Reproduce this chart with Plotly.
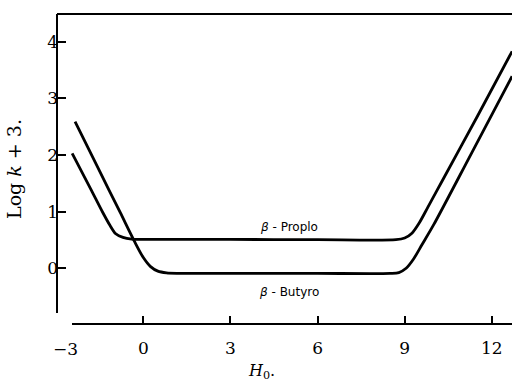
import plotly.graph_objects as go

# ---- data ----
proplo_x = [-2.45, -1.8, -1.4, -1.15, -0.95, -0.7, -0.4, 0.0, 3.0, 6.0, 8.7, 9.0, 9.25, 9.5, 9.8, 10.3, 11.5, 12.7]
proplo_y = [2.03, 1.39, 0.99, 0.76, 0.61, 0.545, 0.515, 0.51, 0.51, 0.505, 0.505, 0.535, 0.62, 0.80, 1.08, 1.55, 2.68, 3.83]

butyro_x = [-2.35, -1.5, -0.8, -0.3, 0.0, 0.25, 0.5, 0.8, 1.2, 3.0, 6.0, 8.5, 8.8, 9.05, 9.3, 9.6, 10.0, 11.3, 12.7]
butyro_y = [2.59, 1.71, 0.99, 0.47, 0.19, 0.03, -0.05, -0.08, -0.088, -0.088, -0.09, -0.09, -0.075, 0.0, 0.16, 0.42, 0.77, 2.03, 3.39]

x_tick_vals = [0, 3, 6, 9, 12]
x_tick_text = ["0", "3", "6", "9", "12"]
x_first_tick = -3
y_tick_vals = [0, 1, 2, 3, 4]

label_proplo = "<i>β</i> - Proplo"
label_butyro = "<i>β</i> - Butyro"
label_pos_x = 5.0
label_proplo_y = 0.73
label_butyro_y = -0.42

x_range = [-2.972, 12.696]
y_range = [-0.983, 4.489]

serif = "DejaVu Serif, Liberation Serif, serif"
sans = "DejaVu Sans, Liberation Sans, sans-serif"

fig = go.Figure()
for xs, ys in [(proplo_x, proplo_y), (butyro_x, butyro_y)]:
    fig.add_trace(go.Scatter(x=xs, y=ys, mode="lines",
                             line=dict(color="black", width=2.8, shape="spline", smoothing=0.8),
                             showlegend=False, hoverinfo="skip"))

# axis frame lines (detached style of the original)
fig.add_shape(type="line", xref="paper", yref="y", x0=0, x1=0, y0=-0.79, y1=y_range[1],
              line=dict(color="black", width=2))
fig.add_shape(type="line", xref="paper", yref="paper", x0=0, x1=1, y0=1, y1=1,
              line=dict(color="black", width=2))
fig.add_shape(type="line", xref="x", yref="paper", x0=-2.455, x1=x_range[1], y0=0, y1=0,
              line=dict(color="black", width=2))

fig.add_annotation(x=label_pos_x, y=label_proplo_y, text=label_proplo, showarrow=False,
                   font=dict(family=sans, size=12, color="black"))
fig.add_annotation(x=label_pos_x, y=label_butyro_y, text=label_butyro, showarrow=False,
                   font=dict(family=sans, size=12, color="black"))

first_tick_paper = (x_first_tick - x_range[0]) / (x_range[1] - x_range[0])
fig.add_annotation(x=first_tick_paper, y=0, xref="paper", yref="paper", text="−3", showarrow=False,
                   xshift=9, yshift=-25, xanchor="center", yanchor="middle",
                   font=dict(family=serif, size=17, color="black"))
fig.add_annotation(x=0.45, y=0, xref="paper", yref="paper", text="<i>H</i><sub>0</sub>.",
                   showarrow=False, yshift=-47, xanchor="center", yanchor="middle",
                   font=dict(family=serif, size=16, color="black"))

fig.update_xaxes(range=x_range, tickvals=x_tick_vals, ticktext=x_tick_text,
                 ticks="inside", ticklen=8, tickwidth=1.5, tickcolor="black",
                 showgrid=False, zeroline=False, showline=False,
                 ticklabelstandoff=12,
                 tickfont=dict(family=serif, size=17, color="black"))
fig.update_yaxes(range=y_range, tickvals=y_tick_vals,
                 ticks="inside", ticklen=9, tickwidth=1.5, tickcolor="black",
                 showgrid=False, zeroline=False, showline=False,
                 ticklabelstandoff=-2,
                 tickfont=dict(family=serif, size=17, color="black"),
                 title=dict(text="Log <i>k</i> + 3.", standoff=20,
                            font=dict(family=serif, size=19, color="black")))

fig.update_layout(width=512, height=381, margin=dict(l=57, r=0, t=14, b=57),
                  plot_bgcolor="white", paper_bgcolor="white")

fig.write_html("out.html")
